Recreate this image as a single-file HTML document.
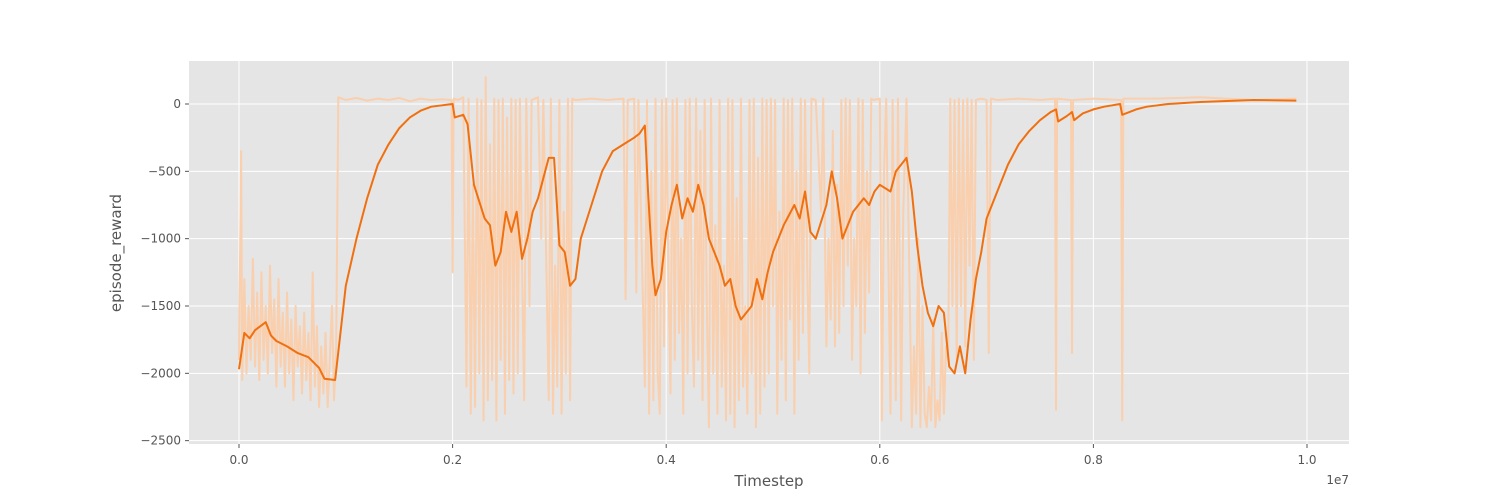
<!DOCTYPE html>
<html><head><meta charset="utf-8"><style>
html,body{margin:0;padding:0;background:#fff;}
svg{display:block;font-family:"DejaVu Sans","Liberation Sans",sans-serif;}
</style></head><body>
<svg id="chart" width="1500" height="500" viewBox="0 0 1500 500" xmlns="http://www.w3.org/2000/svg">
<rect x="0" y="0" width="1500" height="500" fill="#fff"/>
<rect x="189" y="61" width="1160" height="383" fill="#e5e5e5"/>
<g id="grid"></g>
<g id="raw"></g>
<g id="smooth"></g>
<g id="axes"></g>
<text x="769" y="486" font-size="15" fill="#555" text-anchor="middle">Timestep</text>
<text x="121" y="253" font-size="15" fill="#555" text-anchor="middle" transform="rotate(-90 121 253)">episode_reward</text>
<text x="1349" y="484" font-size="12" fill="#555" text-anchor="end">1e7</text>
</svg>
<script>
const xTicks=[0,0.2,0.4,0.6,0.8,1.0];
const xTickLabels=["0.0","0.2","0.4","0.6","0.8","1.0"];
const yTicks=[0,-500,-1000,-1500,-2000,-2500];
const yTickLabels=["0","−500","−1000","−1500","−2000","−2500"];
// timesteps in units of 1e6
const smoothX=[0,0.05,0.1,0.15,0.25,0.3,0.35,0.45,0.55,0.65,0.75,0.8,0.9,0.95,1.0,1.1,1.2,1.3,1.4,1.5,1.6,1.7,1.8,2.0,2.02,2.1,2.14,2.2,2.3,2.35,2.4,2.45,2.5,2.55,2.6,2.65,2.7,2.75,2.8,2.85,2.9,2.95,3.0,3.05,3.1,3.15,3.2,3.3,3.4,3.5,3.6,3.7,3.75,3.8,3.83,3.87,3.9,3.95,4.0,4.05,4.1,4.15,4.2,4.25,4.3,4.35,4.4,4.5,4.55,4.6,4.65,4.7,4.75,4.8,4.85,4.9,4.95,5.0,5.1,5.2,5.25,5.3,5.35,5.4,5.5,5.55,5.6,5.65,5.7,5.75,5.8,5.85,5.9,5.95,6.0,6.1,6.15,6.25,6.3,6.35,6.4,6.45,6.5,6.55,6.6,6.65,6.7,6.75,6.8,6.85,6.9,6.95,7.0,7.1,7.2,7.3,7.4,7.5,7.6,7.65,7.67,7.75,7.8,7.82,7.9,8.0,8.1,8.25,8.27,8.4,8.5,8.7,9.0,9.5,9.9];
const smoothY=[-1970,-1700,-1740,-1680,-1620,-1720,-1760,-1800,-1850,-1880,-1960,-2040,-2050,-1700,-1350,-1000,-700,-450,-300,-180,-100,-50,-20,0,-100,-80,-150,-600,-850,-900,-1200,-1100,-800,-950,-800,-1150,-1000,-800,-700,-550,-400,-400,-1050,-1100,-1350,-1300,-1000,-750,-500,-350,-300,-250,-220,-160,-650,-1200,-1420,-1300,-950,-750,-600,-850,-700,-800,-600,-750,-1000,-1200,-1350,-1300,-1500,-1600,-1550,-1500,-1300,-1450,-1250,-1100,-900,-750,-850,-650,-950,-1000,-750,-500,-700,-1000,-900,-800,-750,-700,-750,-650,-600,-650,-500,-400,-650,-1050,-1350,-1550,-1650,-1500,-1550,-1950,-2000,-1800,-2000,-1600,-1300,-1100,-850,-650,-450,-300,-200,-120,-60,-40,-130,-90,-60,-120,-70,-40,-20,0,-80,-40,-20,0,15,30,25];
// raw episode rewards as [timestep(1e6), reward] pairs
const rawPoints=[
[0,-1900],[0.02,-350],[0.03,-2050],[0.05,-1300],[0.07,-2000],[0.09,-1500],[0.11,-1900],[0.13,-1150],[0.15,-1950],[0.17,-1400],[0.19,-2050],[0.21,-1250],[0.23,-1900],[0.25,-1500],[0.27,-2000],[0.29,-1200],[0.31,-1850],[0.33,-1450],[0.35,-2100],[0.37,-1300],[0.39,-1950],[0.41,-1550],[0.43,-2100],[0.45,-1400],[0.47,-2000],[0.49,-1600],[0.51,-2200],[0.53,-1500],[0.55,-1950],[0.57,-1650],[0.59,-2150],[0.61,-1550],[0.63,-2050],[0.65,-1700],[0.67,-2200],[0.69,-1250],[0.71,-2100],[0.73,-1650],[0.75,-2250],[0.77,-1800],[0.79,-2150],[0.81,-1700],[0.83,-2250],[0.85,-1900],[0.87,-1500],[0.89,-2200],[0.91,-1800],[0.93,50],
[1.0,30],[1.1,45],[1.2,25],[1.3,40],[1.4,30],[1.5,45],[1.6,20],[1.7,40],[1.8,30],[1.9,35],[1.99,30],
[2.0,-1250],[2.01,40],[2.05,30],[2.1,50],[2.13,-2100],[2.15,40],[2.17,-2300],[2.19,-600],[2.21,-2250],[2.23,40],[2.25,-2000],[2.27,30],[2.29,-2350],[2.31,200],[2.33,-2200],[2.35,-300],[2.37,-2050],[2.39,40],[2.41,-2350],[2.43,30],[2.45,-1900],[2.47,40],[2.49,-2300],[2.51,-100],[2.53,-2050],[2.55,40],[2.57,-2150],[2.59,30],[2.61,-2000],[2.63,40],[2.65,-1200],[2.67,-2200],[2.69,40],[2.72,-1500],[2.74,30],[2.8,50],[2.83,-1000],[2.85,30],
[2.9,-2200],[2.92,40],[2.94,-2300],[2.96,-1200],[2.98,-2100],[3.0,30],[3.02,-2300],[3.04,-800],[3.06,-2000],[3.08,40],[3.1,-2200],[3.12,40],[3.15,30],[3.3,40],[3.45,30],[3.6,40],[3.62,-1450],[3.64,30],[3.7,40],[3.72,-1400],[3.74,30],
[3.8,-2100],[3.82,30],[3.84,-2300],[3.86,-500],[3.88,-2200],[3.9,40],[3.92,-2000],[3.94,-2300],[3.96,30],[3.98,-1800],[4.0,40],[4.02,-1200],[4.04,-2150],[4.06,30],[4.08,-1900],[4.1,40],[4.12,-1700],[4.14,-1000],[4.16,-2300],[4.18,30],[4.2,-2000],[4.22,40],[4.24,-1500],[4.26,-2100],[4.28,40],[4.3,-1900],[4.32,-200],[4.34,-2200],[4.36,30],[4.38,-1500],[4.4,-2400],[4.42,40],[4.44,-2000],[4.46,-900],[4.48,-2300],[4.5,30],[4.52,-2100],[4.54,-1200],[4.56,-2350],[4.58,40],[4.6,-2300],[4.62,30],[4.64,-2400],[4.66,-700],[4.68,-2200],[4.7,40],[4.72,-2100],[4.74,-1500],[4.76,-2300],[4.78,30],[4.8,-2000],[4.82,40],[4.84,-2400],[4.86,-400],[4.88,-2300],[4.9,40],[4.92,-2100],[4.94,30],[4.96,-2000],[4.98,40],[5.0,-1500],[5.02,30],[5.04,-2300],[5.06,-800],[5.08,-1900],[5.1,40],[5.12,-2200],[5.14,30],[5.16,-1600],[5.18,40],[5.2,-2300],[5.22,-500],[5.24,-1900],[5.26,40],[5.28,-1700],[5.3,30],[5.32,-1200],[5.34,-2000],[5.36,40],[5.4,30],
[5.45,-800],[5.47,40],[5.5,-1800],[5.52,-1000],[5.54,-1600],[5.56,-200],[5.58,-1800],[5.6,-600],[5.62,-1700],[5.64,30],[5.66,-1500],[5.68,40],[5.7,-1200],[5.72,30],[5.74,-1900],[5.76,-1000],[5.78,-1500],[5.8,40],[5.82,-2000],[5.84,30],[5.86,-1700],[5.88,-500],[5.9,-1400],[5.92,40],[5.94,30],[6.0,40],[6.02,-2350],[6.04,-500],[6.06,40],[6.1,-2300],[6.12,30],[6.15,-2200],[6.17,40],[6.2,-2350],[6.22,-800],[6.25,40],
[6.3,-2400],[6.32,-1800],[6.34,-2300],[6.36,-1000],[6.38,-2400],[6.4,-1500],[6.42,-2300],[6.44,-2400],[6.46,-2100],[6.48,-2350],[6.5,-1600],[6.52,-2400],[6.54,-2200],[6.56,-2350],[6.58,-1700],[6.6,-2300],[6.62,-1800],[6.64,-1900],[6.66,40],[6.68,-1500],[6.7,30],[6.72,-1900],[6.74,40],[6.76,-1500],[6.78,30],[6.8,-1800],[6.82,40],[6.84,-1200],[6.86,30],[6.88,-1900],[6.9,30],[6.95,40],[7.0,30],[7.02,-1850],[7.04,40],[7.1,30],[7.3,40],[7.5,30],[7.64,40],[7.65,-2270],[7.66,40],[7.79,30],[7.8,-1850],[7.81,30],[8.0,40],[8.26,30],[8.27,-2350],[8.28,40],[8.6,40],[9.0,50],[9.5,30],[9.9,40]];
const X0=239,XS=106.8,Y0=104,YS=0.13466;
function sx(v){return X0+v*XS;}
function sy(v){return Y0-v*YS;}
const NS="http://www.w3.org/2000/svg";
function mk(tag,attrs,parent){const e=document.createElementNS(NS,tag);for(const k in attrs)e.setAttribute(k,attrs[k]);parent.appendChild(e);return e;}
const grid=document.getElementById('grid'),axes=document.getElementById('axes');
xTicks.forEach((t,i)=>{
  const x=sx(t*10);
  const gl=mk('line',{x1:x,x2:x,y1:61,y2:444,stroke:'#fff','stroke-width':1},grid);
  
  
  const tk=mk('line',{x1:x,x2:x,y1:444,y2:448,stroke:'#555','stroke-width':1},axes);
  
  
  const tx=mk('text',{x:x,y:464,'font-size':12,fill:'#555','text-anchor':'middle'},axes);
  tx.textContent=xTickLabels[i];
  
  
});
yTicks.forEach((t,i)=>{
  const y=sy(t);
  const gl=mk('line',{x1:189,x2:1349,y1:y,y2:y,stroke:'#fff','stroke-width':1},grid);
  
  
  const tk=mk('line',{x1:185,x2:189,y1:y,y2:y,stroke:'#555','stroke-width':1},axes);
  
  
  const tx=mk('text',{x:181,y:y+4,'font-size':12,fill:'#555','text-anchor':'end'},axes);
  tx.textContent=yTickLabels[i];
  
  
});
const rp=mk('polyline',{points:rawPoints.map(p=>sx(p[0])+','+sy(p[1])).join(' '),fill:'none',stroke:'#f9cfae','stroke-width':2,'stroke-linejoin':'round'},document.getElementById('raw'));


const sp=mk('polyline',{points:smoothX.map((v,i)=>sx(v)+','+sy(smoothY[i])).join(' '),fill:'none',stroke:'#f07010','stroke-width':2,'stroke-linejoin':'round'},document.getElementById('smooth'));


</script>
</body></html>
